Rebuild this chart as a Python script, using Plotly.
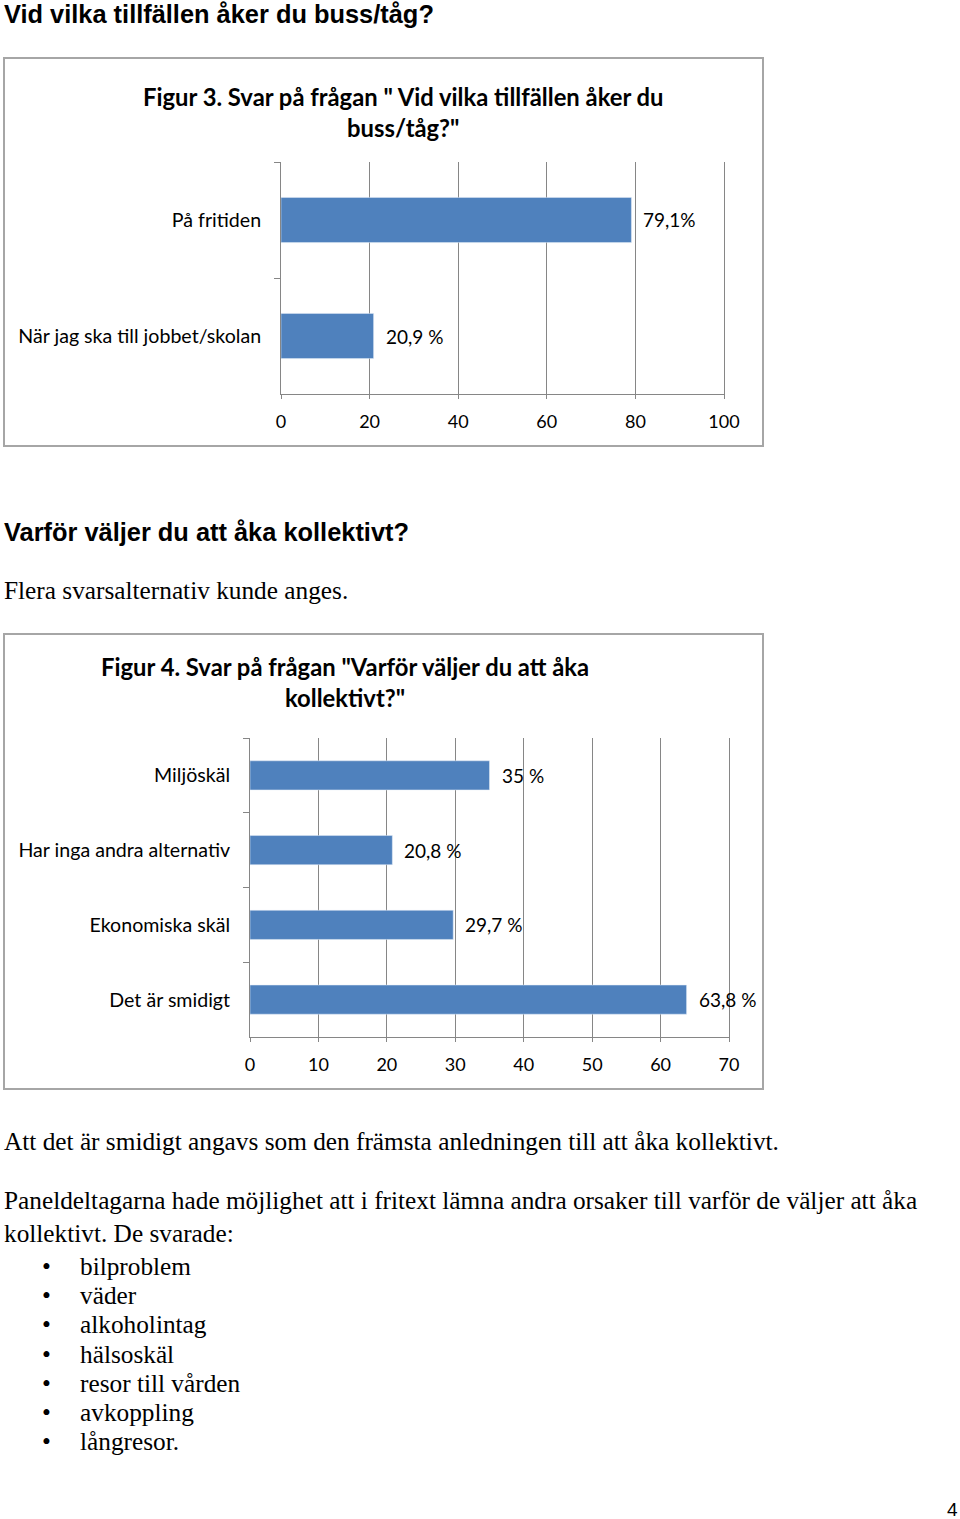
import plotly.graph_objects as go

W, H = 960, 1519

# ---- data ----
fig3_cats = ["På fritiden", "När jag ska till jobbet/skolan"]
fig3_vals = [79.1, 20.9]
fig3_labels = ["79,1%", "20,9 %"]
fig3_ticks = [0, 20, 40, 60, 80, 100]

fig4_cats = ["Miljöskäl", "Har inga andra alternativ", "Ekonomiska skäl", "Det är smidigt"]
fig4_vals = [35, 20.8, 29.7, 63.8]
fig4_labels = ["35 %", "20,8 %", "29,7 %", "63,8 %"]
fig4_ticks = [0, 10, 20, 30, 40, 50, 60, 70]

free_text = ["bilproblem", "väder", "alkoholintag", "hälsoskäl",
             "resor till vården", "avkoppling", "långresor."]

BAR = "#4f81bd"
GRID = "#868686"
CFONT = "Lato"
SERIF = "Liberation Serif"
SANS = "Liberation Sans"


def px(x):
    return x / W


def py(y):
    return 1 - y / H


fig = go.Figure()
fig.add_trace(go.Bar(x=fig3_vals, y=fig3_cats, orientation="h", marker_color=BAR,
                     xaxis="x", yaxis="y", showlegend=False, hoverinfo="skip"))
fig.add_trace(go.Bar(x=fig4_vals, y=fig4_cats, orientation="h", marker_color=BAR,
                     xaxis="x2", yaxis="y2", showlegend=False, hoverinfo="skip"))

axis_common = dict(showgrid=True, gridcolor=GRID, gridwidth=1, showline=True,
                   linecolor=GRID, linewidth=1, ticks="outside", tickcolor=GRID,
                   ticklen=4, zeroline=False, automargin=False, ticklabelstandoff=7,
                   tickfont=dict(family=CFONT, size=18, color="#000"))
yaxis_common = dict(showgrid=False, showline=True, linecolor=GRID, linewidth=1, mirror=True,
                    ticks="outside", tickcolor=GRID, ticklen=6, tickson="boundaries",
                    autorange="reversed", ticklabelstandoff=15, automargin=False,
                    tickfont=dict(family=CFONT, size=19.6, color="#000"))

fig.update_layout(
    width=W, height=H, margin=dict(l=0, r=0, t=0, b=0, pad=0), autosize=False,
    paper_bgcolor="white", plot_bgcolor="white", bargap=0.61,
    xaxis=dict(domain=[px(281), px(724)], range=[0, 100], tickvals=fig3_ticks,
               anchor="y", **axis_common),
    yaxis=dict(domain=[py(394), py(162)], anchor="x", **yaxis_common),
    xaxis2=dict(domain=[px(250), px(729)], range=[0, 70], tickvals=fig4_ticks,
                anchor="y2", **axis_common),
    yaxis2=dict(domain=[py(1037), py(738)], anchor="x2", **yaxis_common),
)

# data labels
for c, v, t in zip(fig3_cats, fig3_vals, fig3_labels):
    fig.add_annotation(x=v, y=c, xref="x", yref="y", text=t, showarrow=False,
                       xanchor="left", xshift=10, font=dict(family=CFONT, size=19, color="#000"))
for c, v, t in zip(fig4_cats, fig4_vals, fig4_labels):
    fig.add_annotation(x=v, y=c, xref="x2", yref="y2", text=t, showarrow=False,
                       xanchor="left", xshift=10, font=dict(family=CFONT, size=19, color="#000"))

# chart boxes
for (x0, y0, x1, y1) in [(4, 58, 763, 446), (4, 634, 763, 1089)]:
    fig.add_shape(type="rect", xref="paper", yref="paper", x0=px(x0), x1=px(x1),
                  y0=py(y1), y1=py(y0), line=dict(color="#a6a6a6", width=2))

# chart titles
fig.add_annotation(x=px(403), y=py(112), xref="paper", yref="paper", showarrow=False,
                   xanchor="center", yanchor="middle",
                   text="<b>Figur 3. Svar på frågan \" Vid vilka tillfällen åker du<br>buss/tåg?\"</b>",
                   font=dict(family=CFONT, size=23.8, color="#000"), align="center")
fig.add_annotation(x=px(345), y=py(683), xref="paper", yref="paper", showarrow=False,
                   xanchor="center", yanchor="middle",
                   text="<b>Figur 4. Svar på frågan \"Varför väljer du att åka<br>kollektivt?\"</b>",
                   font=dict(family=CFONT, size=23.8, color="#000"), align="center")


def text(x, y, s, family, size, bold=False, anchor="left"):
    if bold:
        s = "<b>" + s + "</b>"
    fig.add_annotation(x=px(x), y=py(y), xref="paper", yref="paper", text=s,
                       showarrow=False, xanchor=anchor, yanchor="middle",
                       font=dict(family=family, size=size, color="#000"))


BODY = 25.3
text(2, 14, "Vid vilka tillfällen åker du buss/tåg?", SANS, 25.4, bold=True)
text(2, 532, "Varför väljer du att åka kollektivt?", SANS, 25.4, bold=True)
text(2, 590, "Flera svarsalternativ kunde anges.", SERIF, BODY)
text(2, 1141, "Att det är smidigt angavs som den främsta anledningen till att åka kollektivt.", SERIF, BODY)
text(2, 1200, "Paneldeltagarna hade möjlighet att i fritext lämna andra orsaker till varför de väljer att åka", SERIF, BODY)
text(2, 1233, "kollektivt. De svarade:", SERIF, BODY)
for i, s in enumerate(free_text):
    yy = 1266 + i * 29.2
    text(40, yy, "•", SERIF, BODY)
    text(78, yy, s, SERIF, BODY)
text(960, 1509, "4", SANS, 19, anchor="right")

fig.write_html("out.html", config={"displayModeBar": False},
               post_script="document.body.style.margin='0';document.documentElement.style.overflow='hidden';")
